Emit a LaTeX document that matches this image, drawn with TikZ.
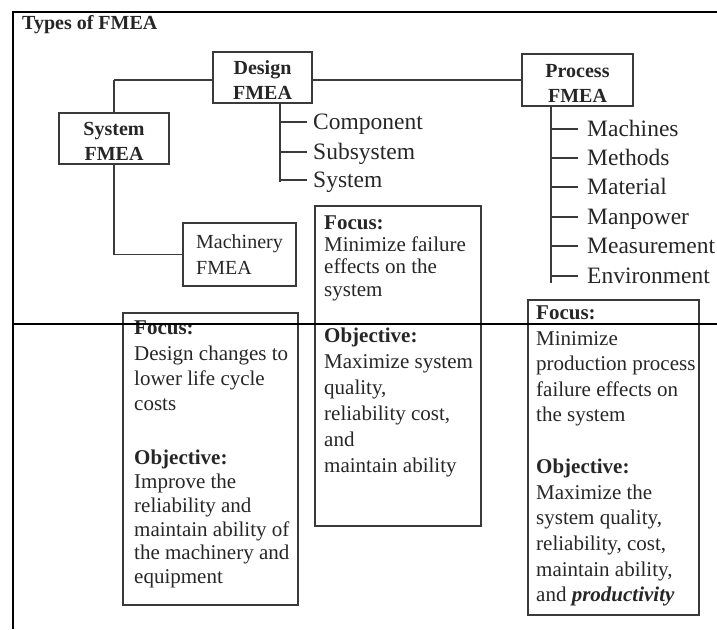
\documentclass[tikz,border=0pt]{standalone}
\usepackage{fontspec}
\setmainfont{Liberation Serif}
\definecolor{ink}{HTML}{262626}
\definecolor{rule}{HTML}{3A3A3A}
% taller first line so the two-line labels sit a little low in their boxes
\newcommand\firstline{\rule{0pt}{19.5pt}}
\begin{document}
\begin{tikzpicture}[x=1pt,y=-1pt,
  frame/.style={line width=1.4pt, draw=black},
  link/.style={line width=1.8pt, draw=rule},
  hdbox/.style={draw=rule, line width=1.8pt, inner sep=0pt, align=center,
    font=\fontsize{20}{25}\selectfont\bfseries, text=ink},
  mcbox/.style={draw=rule, line width=1.8pt, inner sep=0pt, align=left,
    font=\fontsize{20}{26}\selectfont, text=ink},
  infobox/.style={draw=rule, line width=1.8pt, anchor=north west, inner sep=0pt},
  blurb/.style={anchor=north west, inner sep=0pt, align=left, text=ink,
    font=\fontsize{21}{#1}\selectfont},
  subitem/.style={anchor=west, inner sep=0pt, text height=17pt, text depth=2pt,
    font=\fontsize{23.5}{28}\selectfont, text=ink}
]
\useasboundingbox (0,0) rectangle (717,629);

% heading
\node[anchor=west, inner sep=0pt, font=\fontsize{20}{24}\selectfont\bfseries, text=ink]
  (title) at (22,25) {Types of FMEA};

% the four FMEA types
\node[hdbox, minimum width=99pt, minimum height=51pt] (design) at (262.5,77.5) {\firstline Design\\FMEA};
\node[hdbox, minimum width=111pt, minimum height=52pt] (process) at (577.5,80) {\firstline Process\\FMEA};
\node[hdbox, minimum width=110pt, minimum height=51pt] (system) at (114,138.5) {\firstline System\\FMEA};
\node[mcbox, minimum width=113pt, minimum height=63pt] (machinery) at (239.5,254.5) {Machinery\\FMEA};

% tree of links between the types
\coordinate (hub) at (114,80);
\draw[link] (hub) -- (hub -| design.west);
\draw[link] (design.east |- hub) -- (hub -| process.west);
\draw[link] (hub) -- (system.north);
\draw[link] (system.south) -- (system.south |- machinery.west) -- (machinery.west);

% design FMEA levels
\coordinate (dtrunk) at (280,182);
\node[subitem] (component) at (313,122) {Component};
\node[subitem] (subsystem) at (313,152) {Subsystem};
\node[subitem] (dsystem) at (313,180) {System};
\draw[link] (design.south -| dtrunk) -- (dtrunk);
\foreach \n in {component,subsystem,dsystem}
  \draw[link] (\n.west -| dtrunk) -- ([xshift=-6pt]\n.west);

% process FMEA factors
\coordinate (ptrunk) at (551,283);
\node[subitem] (machines) at (587,129) {Machines};
\node[subitem] (methods) at (587,158) {Methods};
\node[subitem] (material) at (587,187) {Material};
\node[subitem] (manpower) at (587,217) {Manpower};
\node[subitem] (measurement) at (587,246) {Measurement};
\node[subitem] (environment) at (587,276) {Environment};
\draw[link] (process.south -| ptrunk) -- (ptrunk);
\foreach \n in {machines,methods,material,manpower,measurement,environment}
  \draw[link] (\n.west -| ptrunk) -- ([xshift=-9pt]\n.west);

% focus / objective panels
\node[infobox, minimum width=166pt, minimum height=320pt] (dpanel) at (314,205) {};
\node[infobox, minimum width=175pt, minimum height=292pt] (mpanel) at (122,312) {};
\node[infobox, minimum width=171pt, minimum height=315pt] (ppanel) at (527,299) {};

\node[blurb=22.3] (dfocus) at (324,213.5)
  {\strut\textbf{Focus:}\\Minimize failure\\effects on the\\system};
\node[blurb=26] (dobj) at (324,324.3)
  {\strut\textbf{Objective:}\\Maximize system\\quality,\\reliability cost,\\and\\maintain ability};

\node[blurb=25.3] (mfocus) at (134,316.8)
  {\strut\textbf{Focus:}\\Design changes to\\lower life cycle\\costs};
\node[blurb=23.8] (mobj) at (134,447.8)
  {\strut\textbf{Objective:}\\Improve the\\reliability and\\maintain ability of\\the machinery and\\equipment};

\node[blurb=25.5] (pfocus) at (536,301.6)
  {\strut\textbf{Focus:}\\Minimize\\production process\\failure effects on\\the system};
\node[blurb=25.6] (pobj) at (536,455.6)
  {\strut\textbf{Objective:}\\Maximize the\\system quality,\\reliability, cost,\\maintain ability,\\and \textbf{\textit{productivity}}};

% outer frame rules
\coordinate (fbl) at (13,629);
\coordinate (ftl) at (13,12);
\coordinate (ftr) at (717,12);
\coordinate (fml) at (13,324);
\coordinate (fmr) at (717,324);
\draw[frame] (fbl) -- (ftl) -- (ftr);
\draw[frame] (fml) -- (fmr);
\end{tikzpicture}
\end{document}
